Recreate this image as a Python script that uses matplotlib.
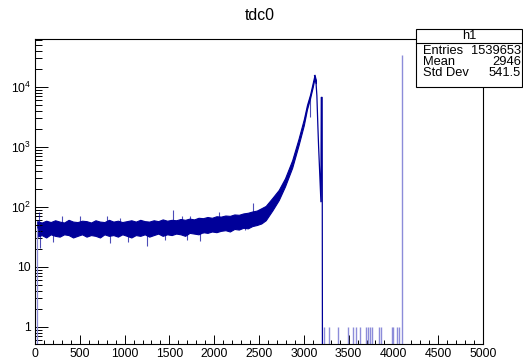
import matplotlib
matplotlib.use('Agg')
import matplotlib.pyplot as plt
from matplotlib.ticker import FixedLocator, FixedFormatter, NullFormatter, MultipleLocator, LogLocator
from matplotlib.patches import Rectangle
from matplotlib.lines import Line2D

plt.rcParams['font.family'] = ['Liberation Sans', 'DejaVu Sans']
plt.rcParams['mathtext.fontset'] = 'custom'
plt.rcParams['mathtext.rm'] = 'Liberation Sans'

# ---------------- data ----------------
title = "tdc0"
hist_name = "h1"
stat_labels = ["Entries", "Mean", "Std Dev"]
stat_values = ["1539653", "2946", "541.5"]

# envelope of the dense noisy part of the histogram (counts per bin)
band_x = [25, 75, 125, 175, 225, 275, 325, 375, 425, 475, 525, 575, 625, 675,
          725, 775, 825, 875, 925, 975, 1025, 1075, 1125, 1175, 1225, 1275,
          1325, 1375, 1425, 1475, 1525, 1575, 1625, 1675, 1725, 1775, 1825,
          1875, 1925, 1975, 2025, 2075, 2125, 2175, 2225, 2275, 2325, 2375,
          2425, 2475, 2525, 2575,
          2650, 2720, 2790, 2870, 2940, 3000, 3035, 3070, 3100, 3120, 3135]
band_lo = [32, 34, 31, 35, 33, 32, 35, 34, 31, 33, 35, 32, 34, 33,
           31, 35, 33, 34, 32, 35, 33, 31, 34, 33, 35, 32,
           34, 36, 33, 35, 34, 36, 35, 33, 37, 36, 35,
           38, 37, 39, 38, 40, 41, 39, 43, 42, 45, 44,
           48, 50, 53, 60,
           88, 130, 220, 450, 1050, 2300, 4200, 6500, 10000, 14000, 11500]
band_hi = [58, 55, 59, 56, 60, 57, 55, 61, 57, 56, 59, 58, 55, 60,
           57, 56, 61, 57, 59, 56, 58, 60, 57, 61, 58, 57,
           60, 58, 62, 59, 61, 60, 63, 61, 64, 62, 66,
           65, 68, 66, 70, 69, 72, 71, 75, 74, 78, 80,
           84, 87, 95, 104,
           142, 192, 300, 600, 1350, 2900, 5000, 7500, 11800, 16000, 13000]

# falling edge after the peak
edge_x = [3120, 3135, 3146, 3157, 3165, 3176, 3191, 3195, 3205, 3208]
edge_y = [15400, 12700, 7130, 2240, 1035, 420, 122, 6700, 6700, 0.3]

# single-bin excursions out of the band
spike_x = [40, 56, 200, 298, 503, 800, 838, 950, 1040, 1247, 1452, 1545,
           1638, 1694, 1731, 1843, 1880, 2048, 2346, 2437, 2532, 3072]
spike_y = [83, 21, 26, 72, 70, 70, 25, 66, 26, 22, 28, 88,
           71, 28, 70, 27, 37, 84, 42, 118, 55, 3100]

# isolated bins with a single entry
sparse_x = [3226, 3281, 3378, 3497, 3546, 3583, 3627, 3691, 3713, 3739,
            3758, 3843, 3858, 3981, 3992, 4043, 4062]
sparse_y = [1] * len(sparse_x)

# overflow-like spike
big_x = [4096]
big_y = [34000]

x_ticks = [0, 500, 1000, 1500, 2000, 2500, 3000, 3500, 4000, 4500, 5000]
y_ticks = [1, 10, 100, 1000, 10000]
y_tick_labels = ['1', '10', r'$\mathregular{10^{2}}$', r'$\mathregular{10^{3}}$',
                 r'$\mathregular{10^{4}}$']

# ---------------- drawing ----------------
W, H = 523, 364
blue = '#000099'
light = '#8c8cd9'

fig = plt.figure(figsize=(W / 100, H / 100), dpi=100)
L, R, T, B = 35, 483, 39, 344
ax = fig.add_axes([L / W, 1 - B / H, (R - L) / W, (B - T) / H])
ax.set_yscale('log')
ax.set_xlim(0, 5000)
ax.set_ylim(0.52, 63000)

ymin = 0.3
# start of the histogram
ax.vlines([band_x[0]], ymin, 45, color=light, lw=0.9)
# noisy band
ax.fill_between(band_x, band_lo, band_hi, color=blue, lw=0.8, edgecolor=blue)
# falling edge
ax.plot(edge_x, edge_y, color=blue, lw=0.9)
# spikes
mid = []
for sx in spike_x:
    i = min(range(len(band_x)), key=lambda k: abs(band_x[k] - sx))
    mid.append((band_lo[i] * band_hi[i]) ** 0.5)
ax.vlines(spike_x, mid, spike_y, color=blue, lw=0.8, alpha=0.7)
# single-entry bins
ax.vlines(sparse_x, ymin, sparse_y, color=light, lw=1.0)
# big spike
ax.vlines(big_x, ymin, big_y, color=light, lw=1.0)

# axes styling
for s in ax.spines.values():
    s.set_color('black')
    s.set_linewidth(0.8)

ax.xaxis.set_major_locator(FixedLocator(x_ticks))
ax.xaxis.set_minor_locator(MultipleLocator(100))
ax.yaxis.set_major_locator(FixedLocator(y_ticks))
ax.yaxis.set_major_formatter(FixedFormatter(y_tick_labels))
ax.yaxis.set_minor_locator(LogLocator(base=10, subs=[2, 3, 4, 5, 6, 7, 8, 9], numticks=20))
ax.yaxis.set_minor_formatter(NullFormatter())

ax.tick_params(axis='both', which='both', direction='in', top=False, right=False,
               labelsize=8.8, colors='black', width=0.7)
ax.tick_params(axis='x', which='major', length=6.5, pad=3)
ax.tick_params(axis='x', which='minor', length=3.2)
ax.tick_params(axis='y', which='major', length=9.5, pad=3)
ax.tick_params(axis='y', which='minor', length=4.8)

# title
fig.text(260 / W, 1 - 16 / H, title, ha='center', va='center', fontsize=11.4)

# stats box
bx0, bx1, by0, by1 = 416, 522, 29, 87
fig.add_artist(Rectangle((bx0 / W, 1 - by1 / H), (bx1 - bx0) / W, (by1 - by0) / H,
                         transform=fig.transFigure, facecolor='white',
                         edgecolor='black', lw=0.8, zorder=5))
fig.add_artist(Line2D([bx0 / W, bx1 / W], [1 - 43.3 / H, 1 - 43.3 / H],
                      transform=fig.transFigure, color='black', lw=0.8, zorder=6))
fig.text((bx0 + bx1) / 2 / W, 1 - 36 / H, hist_name, ha='center', va='center',
         fontsize=9.3, zorder=7)
row_y = [50.5, 62, 73.5]
for lab, val, yy in zip(stat_labels, stat_values, row_y):
    fig.text(423 / W, 1 - yy / H, lab, ha='left', va='center', fontsize=9.3, zorder=7)
    fig.text(521 / W, 1 - yy / H, val, ha='right', va='center', fontsize=9.3, zorder=7)

fig.savefig('out.png', dpi=100)
